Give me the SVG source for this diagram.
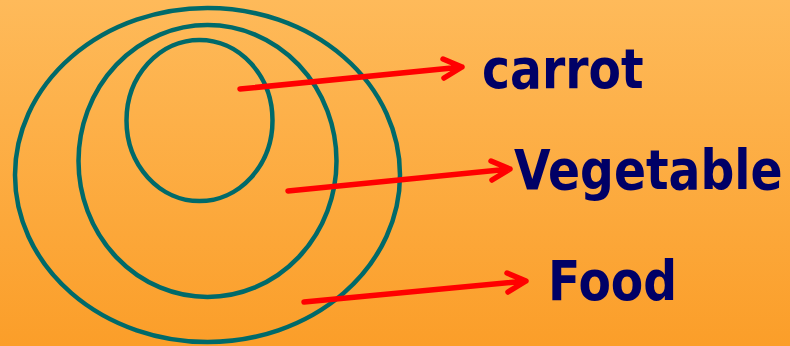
<svg xmlns="http://www.w3.org/2000/svg" width="790" height="346" viewBox="0 0 790 346">
<defs>
<linearGradient id="bg" x1="0" y1="0" x2="0" y2="1">
<stop offset="0" stop-color="#FEBA5A"/>
<stop offset="1" stop-color="#FB9E29"/>
</linearGradient>
</defs>
<style>
.ring{fill:none;stroke:#006A6A;stroke-width:4.5}
.arrow{fill:none;stroke:#FF0000;stroke-width:5.5;stroke-linecap:round;stroke-linejoin:round}
.label{font-family:"DejaVu Sans","Liberation Sans",sans-serif;font-weight:bold;font-size:55px;fill:#000066}
</style>
<rect width="790" height="346" fill="url(#bg)"/>
<g id="food">
<ellipse class="ring" cx="207.5" cy="175" rx="192.5" ry="167"/>
<text class="label" transform="translate(548,300) scale(0.86,1)">Food</text>
</g>
<g id="vegetable">
<ellipse class="ring" cx="207.5" cy="161" rx="129" ry="136"/>
<text class="label" transform="translate(514,189) scale(0.86,1)">Vegetable</text>
</g>
<g id="carrot">
<ellipse class="ring" cx="199.5" cy="120.5" rx="73" ry="80.5"/>
<text class="label" transform="translate(482,88) scale(0.86,1)">carrot</text>
</g>
<g id="connectors">
<path class="arrow" d="M240 89 L462 67 M443 59 L462 67 L444 78"/>
<path class="arrow" d="M288 191 L510 169 M491 161 L510 169 L492 180"/>
<path class="arrow" d="M304 302 L526 281 M507 273 L526 281 L508 292"/>
</g>
</svg>
